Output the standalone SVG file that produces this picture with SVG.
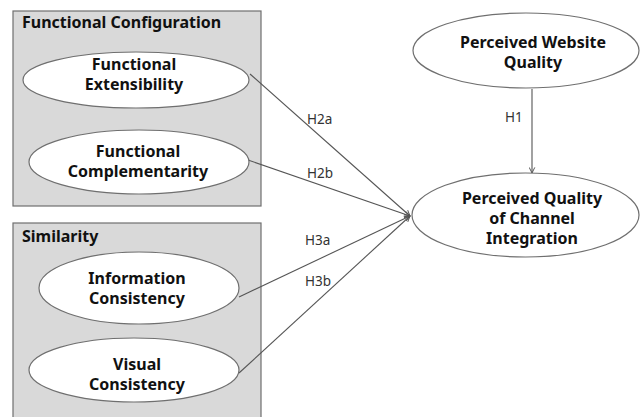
<svg xmlns="http://www.w3.org/2000/svg" width="640" height="417" viewBox="0 0 640 417">
  <defs>
    <marker id="vee" viewBox="0 0 10 10" refX="9" refY="5" markerWidth="7" markerHeight="7" markerUnits="userSpaceOnUse" orient="auto">
      <path d="M1,1 L9,5 L1,9" fill="none" stroke="#555" stroke-width="1.4"/>
    </marker>
    <style>
      .box { fill: #d9d9d9; stroke: #6f6f6f; stroke-width: 1.2; }
      .node { fill: #ffffff; stroke: #6f6f6f; stroke-width: 1.2; }
      .title { font-family: "Noto Sans", "Open Sans", sans-serif; font-weight: bold; font-size: 16px; fill: #111; }
      .name { font-family: "Noto Sans", "Open Sans", sans-serif; font-weight: bold; font-size: 16px; fill: #111; text-anchor: middle; }
      .edge { stroke: #555; stroke-width: 1.1; fill: none; marker-end: url(#vee); }
      .lbl { font-family: "Noto Sans", "Open Sans", sans-serif; font-size: 13.5px; fill: #333; }
    </style>
  </defs>
  <rect width="640" height="417" fill="#ffffff"/>

  <!-- group containers -->
  <g id="functional-configuration">
    <rect class="box" x="13" y="11" width="248" height="195"/>
    <text class="title" x="22" y="28">Functional Configuration</text>
  </g>
  <g id="similarity">
    <rect class="box" x="13" y="223" width="248" height="200"/>
    <text class="title" x="22" y="242">Similarity</text>
  </g>

  <!-- connectors -->
  <g id="connectors">
    <line class="edge" x1="250" y1="74" x2="410" y2="216"/>
    <line class="edge" x1="248" y1="160" x2="410" y2="216"/>
    <line class="edge" x1="239" y1="297" x2="410" y2="216"/>
    <line class="edge" x1="239" y1="373" x2="410" y2="216"/>
    <line class="edge" x1="532" y1="89" x2="532" y2="173"/>
    <text class="lbl" x="307" y="124">H2a</text>
    <text class="lbl" x="307" y="178">H2b</text>
    <text class="lbl" x="305" y="245">H3a</text>
    <text class="lbl" x="305" y="286">H3b</text>
    <text class="lbl" x="505" y="122">H1</text>
  </g>

  <!-- constructs -->
  <g id="functional-extensibility">
    <ellipse class="node" cx="136" cy="80" rx="113" ry="28"/>
    <text class="name" x="134" y="70">Functional</text>
    <text class="name" x="134" y="90">Extensibility</text>
  </g>
  <g id="functional-complementarity">
    <ellipse class="node" cx="139" cy="162" rx="110" ry="32"/>
    <text class="name" x="138" y="157">Functional</text>
    <text class="name" x="138" y="177">Complementarity</text>
  </g>
  <g id="information-consistency">
    <ellipse class="node" cx="139" cy="288" rx="100" ry="36"/>
    <text class="name" x="137" y="284">Information</text>
    <text class="name" x="137" y="304">Consistency</text>
  </g>
  <g id="visual-consistency">
    <ellipse class="node" cx="134" cy="370" rx="105" ry="32"/>
    <text class="name" x="137" y="370">Visual</text>
    <text class="name" x="137" y="390">Consistency</text>
  </g>
  <g id="perceived-website-quality">
    <ellipse class="node" cx="526" cy="50.5" rx="113" ry="37.5"/>
    <text class="name" x="533" y="48">Perceived Website</text>
    <text class="name" x="533" y="68">Quality</text>
  </g>
  <g id="perceived-quality-channel-integration">
    <ellipse class="node" cx="525.5" cy="215" rx="113.5" ry="42"/>
    <text class="name" x="532" y="204">Perceived Quality</text>
    <text class="name" x="532" y="224">of Channel</text>
    <text class="name" x="532" y="244">Integration</text>
  </g>
</svg>
